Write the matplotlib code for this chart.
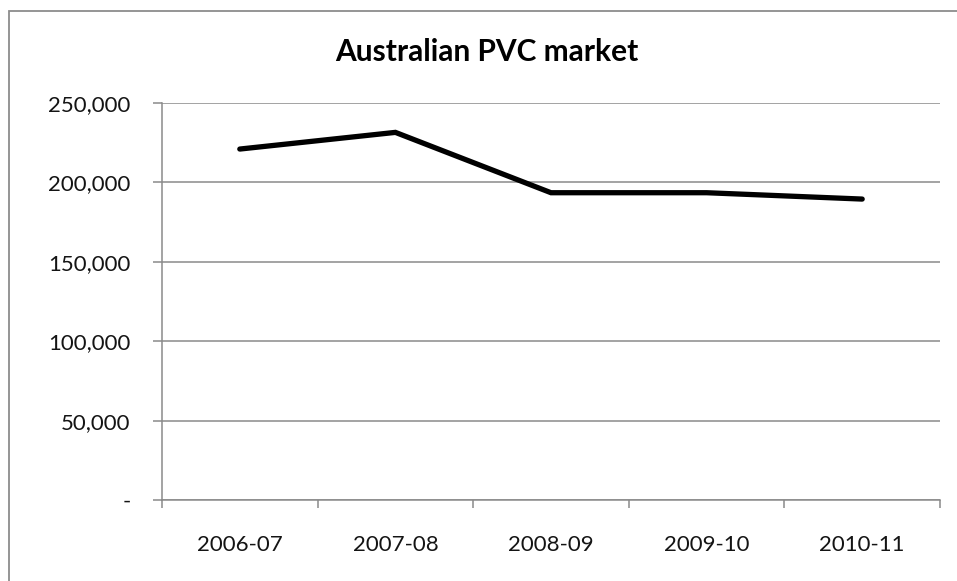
import matplotlib
matplotlib.use("Agg")
import matplotlib.pyplot as plt
from matplotlib.patches import Rectangle
from matplotlib.ticker import FuncFormatter, FixedLocator

categories = ["2006-07", "2007-08", "2008-09", "2009-10", "2010-11"]
values = [221000, 231500, 193500, 193500, 189500]
yticks = [0, 50000, 100000, 150000, 200000, 250000]
title = "Australian PVC market"

plt.rcParams['font.family'] = ['Lato', 'DejaVu Sans']

W, H = 957, 581
fig = plt.figure(figsize=(W / 100, H / 100), dpi=100)
fig.patch.set_facecolor('white')

# outer chart border (only top and left visible)
fig.patches.append(Rectangle((9 / W, -0.1), 1.2, (H - 11) / H + 0.1,
                             transform=fig.transFigure, fill=False,
                             edgecolor='#8c8c8c', linewidth=1.3))

ax = fig.add_axes([162 / W, (H - 500) / H, (940 - 162) / W, (500 - 103) / H])
x = list(range(len(categories)))
ax.plot(x, values, color='black', linewidth=3.8, solid_joinstyle='miter',
        solid_capstyle='round', zorder=3)

ax.set_xlim(-0.5, len(categories) - 0.5)
ax.set_ylim(0, 250000)
ax.yaxis.set_major_locator(FixedLocator(yticks))
ax.yaxis.set_major_formatter(FuncFormatter(lambda v, p: '-' if v == 0 else f"{int(v):,}"))
ax.set_xticks(x)
ax.set_xticklabels(categories)
ax.xaxis.set_minor_locator(FixedLocator([i - 0.5 for i in range(len(categories) + 1)]))

gcol = '#8a8a8a'
ax.grid(axis='y', color=gcol, linewidth=1.1)
ax.set_axisbelow(True)
for s in ['top', 'right']:
    ax.spines[s].set_visible(False)
for s in ['left', 'bottom']:
    ax.spines[s].set_color(gcol)
    ax.spines[s].set_linewidth(1.1)

ax.tick_params(axis='y', length=6.5, width=1.1, color=gcol, pad=16,
               labelsize=16, labelcolor='#141414')
ax.tick_params(axis='x', which='major', length=0, pad=25,
               labelsize=16, labelcolor='#141414')
ax.tick_params(axis='x', which='minor', length=6, width=1.1, color=gcol)

fig.text(487 / W, 1 - 61 / H, title, ha='center', va='baseline',
         fontsize=21.5, fontweight='bold', color='black')

fig.savefig('out.png', dpi=100, facecolor='white')
